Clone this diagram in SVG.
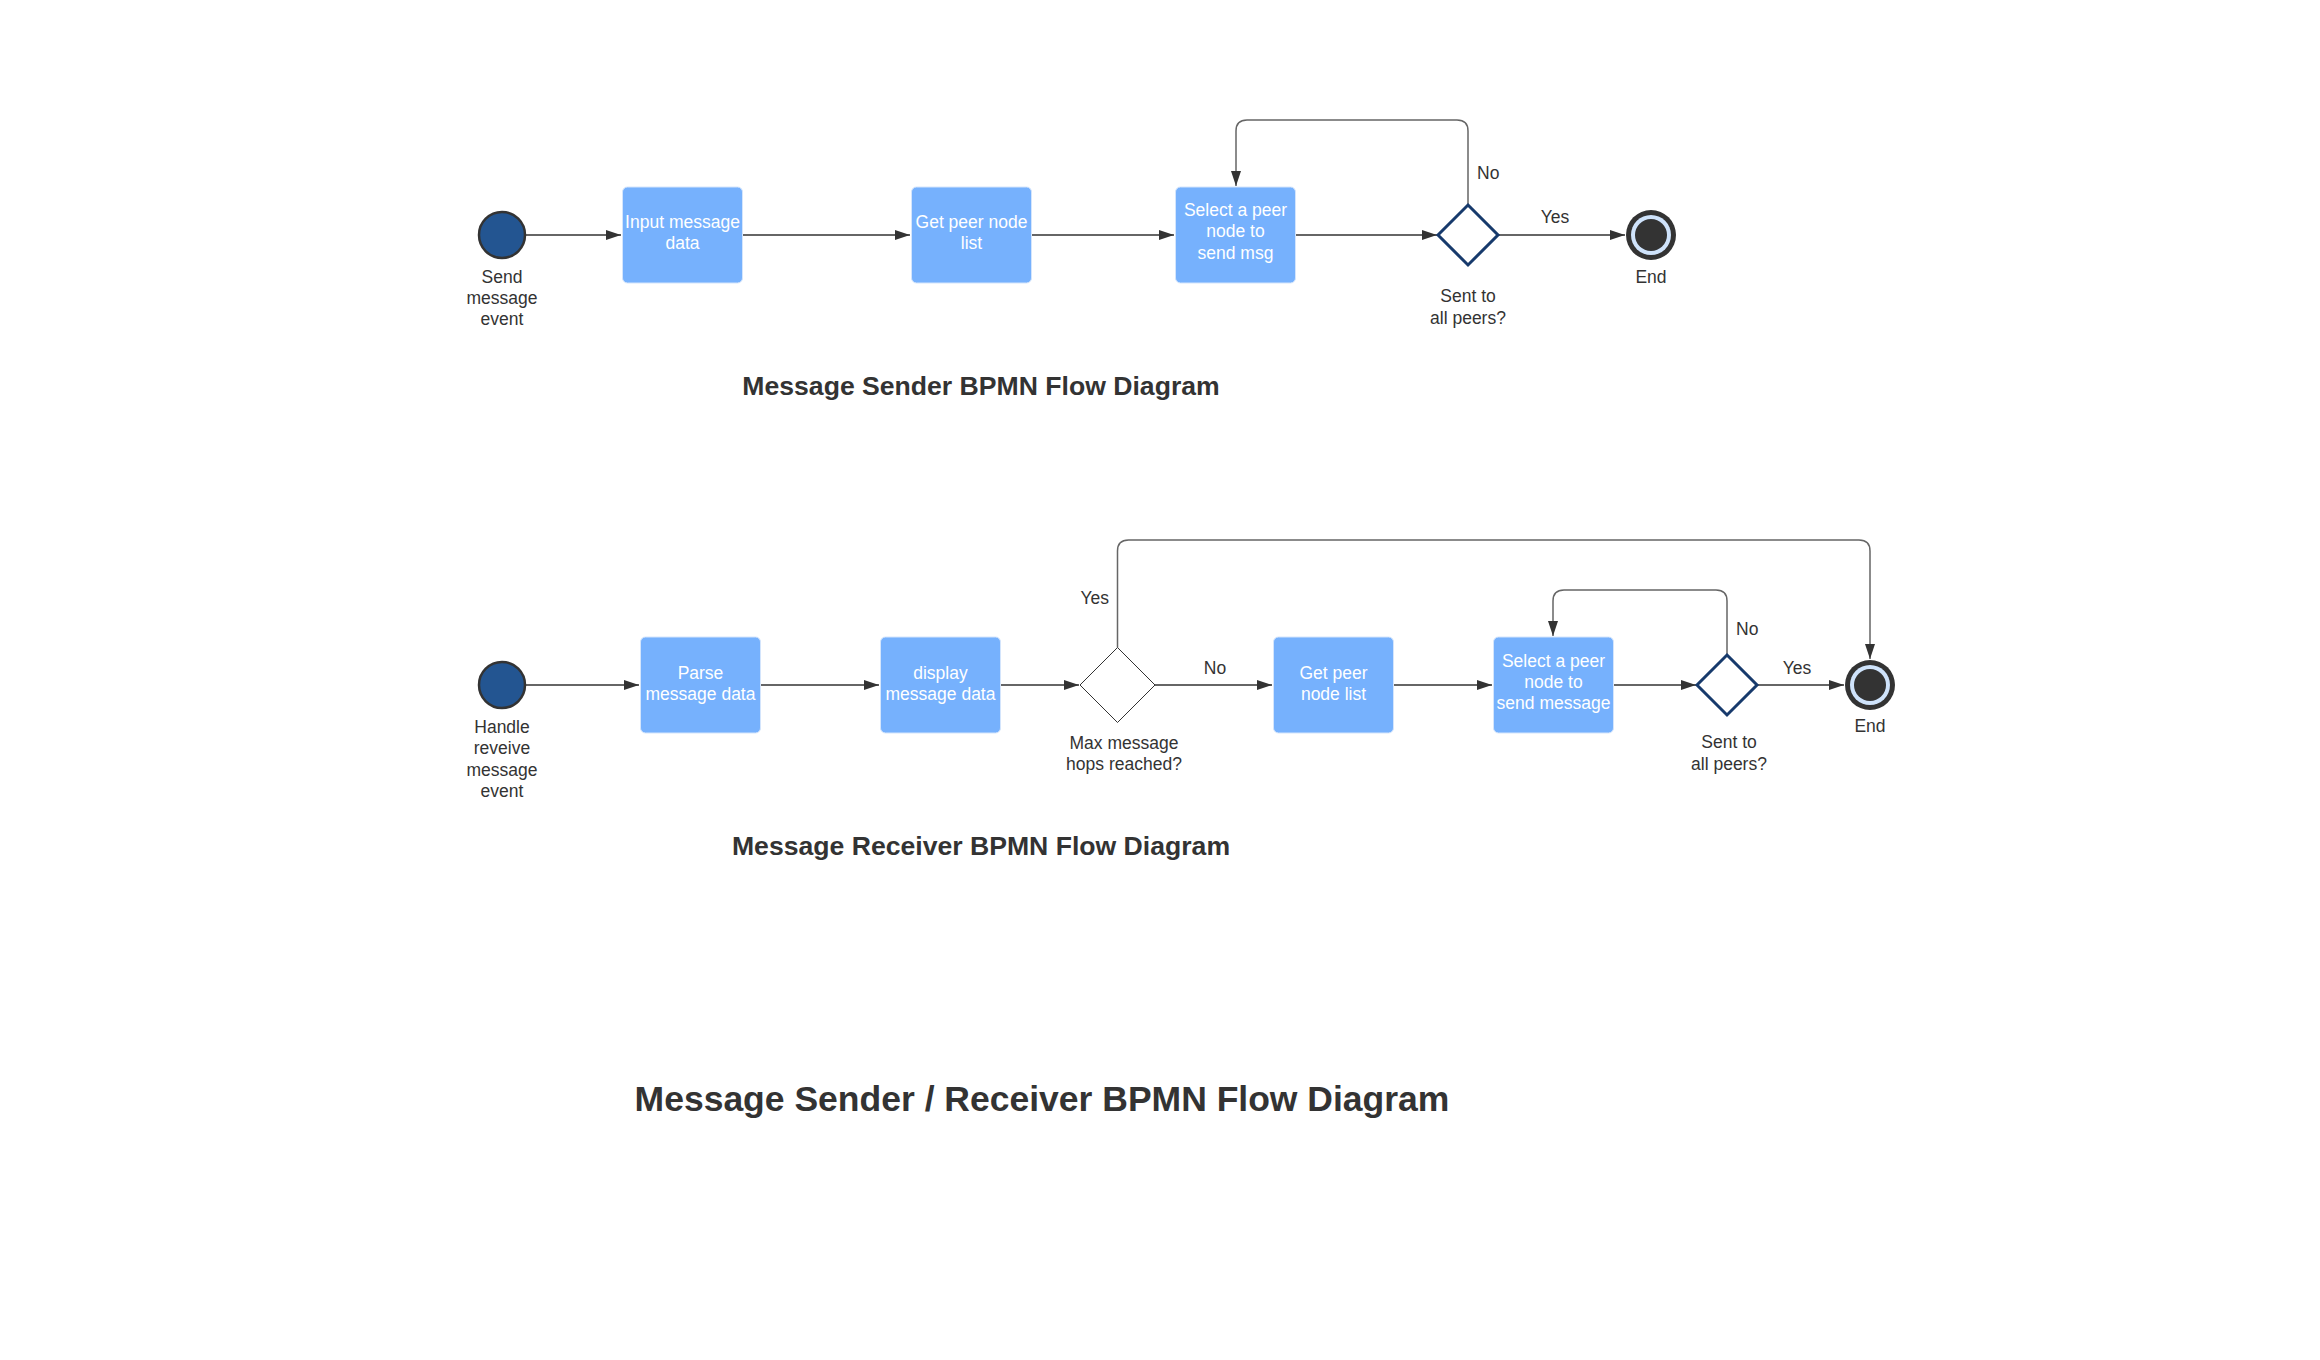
<svg xmlns="http://www.w3.org/2000/svg" width="2320" height="1360" viewBox="0 0 2320 1360">
<style>
text{font-family:"Liberation Sans",Arial,sans-serif;fill:#333;font-size:17.5px;text-anchor:middle}
.w{fill:#fff}
.title{font-weight:bold;font-size:26.6px}
.big{font-weight:bold;font-size:35.5px}
.box{fill:#76b1fd;stroke:#d4e5fc;stroke-width:1}
.start{fill:#235591;stroke:#333;stroke-width:2.5}
.gw{fill:#fff;stroke:#173a6c;stroke-width:3}
.gwt{fill:#fff;stroke:#333;stroke-width:1}
.c{fill:none;stroke:#333;stroke-width:1.5}
.l{fill:none;stroke:#666;stroke-width:1.5}
</style>
<defs>
<marker id="ah" markerUnits="userSpaceOnUse" markerWidth="16" markerHeight="11" refX="15" refY="5" orient="auto">
<path d="M0,0 L15,5 L0,10 z" fill="#333"/>
</marker>
</defs>
<rect width="2320" height="1360" fill="#fff"/>

<g id="connectors">
<path class="c" d="M525,235 H621" marker-end="url(#ah)"/>
<path class="c" d="M743,235 H910" marker-end="url(#ah)"/>
<path class="c" d="M1032,235 H1174" marker-end="url(#ah)"/>
<path class="c" d="M1295,235 H1437" marker-end="url(#ah)"/>
<path class="c" d="M1498,235 H1625" marker-end="url(#ah)"/>
<path class="l" d="M1468,205 V131 Q1468,120 1457,120 H1247 Q1236,120 1236,131 V186" marker-end="url(#ah)"/>
<text x="1477" y="179" style="text-anchor:start">No</text>
<text x="1555" y="223">Yes</text>

<path class="c" d="M525,685 H639" marker-end="url(#ah)"/>
<path class="c" d="M761,685 H879" marker-end="url(#ah)"/>
<path class="c" d="M1000,685 H1079" marker-end="url(#ah)"/>
<path class="c" d="M1155,685 H1272" marker-end="url(#ah)"/>
<path class="c" d="M1393,685 H1492" marker-end="url(#ah)"/>
<path class="c" d="M1613,685 H1696" marker-end="url(#ah)"/>
<path class="c" d="M1757,685 H1844" marker-end="url(#ah)"/>
<path class="l" d="M1727,655 V601 Q1727,590 1716,590 H1564 Q1553,590 1553,601 V636" marker-end="url(#ah)"/>
<path class="l" d="M1117.5,647.5 V551 Q1117.5,540 1128.5,540 H1859 Q1870,540 1870,551 V659" marker-end="url(#ah)"/>
<text x="1215" y="674">No</text>
<text x="1797" y="674">Yes</text>
<text x="1736" y="635" style="text-anchor:start">No</text>
<text x="1109" y="604" style="text-anchor:end">Yes</text>
</g>

<g id="s-start">
<circle class="start" cx="502" cy="235" r="23"/>
<text x="502" y="283">Send</text>
<text x="502" y="304">message</text>
<text x="502" y="325">event</text>
</g>
<g id="s-input">
<rect class="box" x="622.5" y="187" width="120" height="96" rx="5"/>
<text class="w" x="682.5" y="228">Input message</text>
<text class="w" x="682.5" y="249">data</text>
</g>
<g id="s-getpeer">
<rect class="box" x="911.5" y="187" width="120" height="96" rx="5"/>
<text class="w" x="971.5" y="228">Get peer node</text>
<text class="w" x="971.5" y="249">list</text>
</g>
<g id="s-select">
<rect class="box" x="1175.5" y="187" width="120" height="96" rx="5"/>
<text class="w" x="1235.5" y="216">Select a peer</text>
<text class="w" x="1235.5" y="237">node to</text>
<text class="w" x="1235.5" y="259">send msg</text>
</g>
<g id="s-gateway">
<path class="gw" d="M1468,205 L1498,235 L1468,265 L1438,235 z"/>
<text x="1468" y="302">Sent to</text>
<text x="1468" y="324">all peers?</text>
</g>
<g id="s-end">
<circle cx="1651" cy="235" r="25" fill="#333"/>
<circle cx="1651" cy="235" r="20" fill="#cfe3fb"/>
<circle cx="1651" cy="235" r="16" fill="#333"/>
<text x="1651" y="283">End</text>
</g>
<g id="title-sender">
<text class="title" x="981" y="395">Message Sender BPMN Flow Diagram</text>
</g>

<g id="r-start">
<circle class="start" cx="502" cy="685" r="23"/>
<text x="502" y="733">Handle</text>
<text x="502" y="754">reveive</text>
<text x="502" y="776">message</text>
<text x="502" y="797">event</text>
</g>
<g id="r-parse">
<rect class="box" x="640.5" y="637" width="120" height="96" rx="5"/>
<text class="w" x="700.5" y="679">Parse</text>
<text class="w" x="700.5" y="700">message data</text>
</g>
<g id="r-display">
<rect class="box" x="880.5" y="637" width="120" height="96" rx="5"/>
<text class="w" x="940.5" y="679">display</text>
<text class="w" x="940.5" y="700">message data</text>
</g>
<g id="r-maxhops">
<path class="gwt" d="M1117.5,647.5 L1155,685 L1117.5,722.5 L1080,685 z"/>
<text x="1124" y="749">Max message</text>
<text x="1124" y="770">hops reached?</text>
</g>
<g id="r-getpeer">
<rect class="box" x="1273.5" y="637" width="120" height="96" rx="5"/>
<text class="w" x="1333.5" y="679">Get peer</text>
<text class="w" x="1333.5" y="700">node list</text>
</g>
<g id="r-select">
<rect class="box" x="1493.5" y="637" width="120" height="96" rx="5"/>
<text class="w" x="1553.5" y="667">Select a peer</text>
<text class="w" x="1553.5" y="688">node to</text>
<text class="w" x="1553.5" y="709">send message</text>
</g>
<g id="r-gateway">
<path class="gw" d="M1727,655 L1757,685 L1727,715 L1697,685 z"/>
<text x="1729" y="748">Sent to</text>
<text x="1729" y="770">all peers?</text>
</g>
<g id="r-end">
<circle cx="1870" cy="685" r="25" fill="#333"/>
<circle cx="1870" cy="685" r="20" fill="#cfe3fb"/>
<circle cx="1870" cy="685" r="16" fill="#333"/>
<text x="1870" y="732">End</text>
</g>
<g id="title-receiver">
<text class="title" x="981" y="855">Message Receiver BPMN Flow Diagram</text>
</g>
<g id="title-main">
<text class="big" x="1042" y="1111">Message Sender / Receiver BPMN Flow Diagram</text>
</g>
</svg>
